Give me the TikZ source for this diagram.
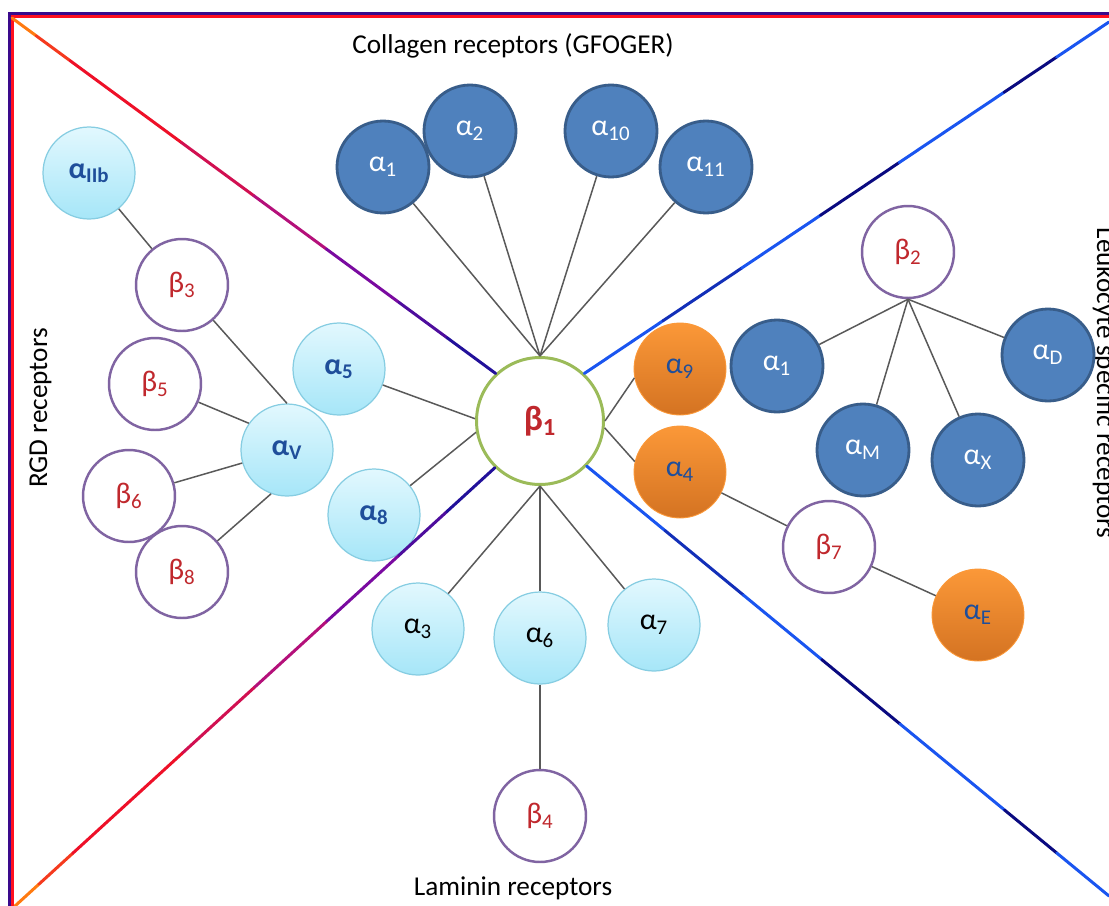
\documentclass[tikz,border=0pt]{standalone}
\usepackage{fontspec}
\setmainfont{Carlito}
\usetikzlibrary{calc}

\definecolor{colfill}{HTML}{4F81BD}
\definecolor{coldraw}{HTML}{385D8A}
\definecolor{cyantop}{HTML}{E2F8FE}
\definecolor{cyanbot}{HTML}{A6E6F8}
\definecolor{cyandraw}{HTML}{86CDE2}
\definecolor{orgtop}{HTML}{FB9838}
\definecolor{orgbot}{HTML}{D47322}
\definecolor{betadraw}{HTML}{8064A2}
\definecolor{betatext}{HTML}{C0282D}
\definecolor{bonedraw}{HTML}{9BBB59}
\definecolor{alblue}{HTML}{1F4E9A}
\definecolor{linkgray}{HTML}{595959}
\definecolor{dgorange}{HTML}{FF7A10}
\definecolor{dgred}{HTML}{EE1028}
\definecolor{dgmag}{HTML}{B4107A}
\definecolor{dgpurp}{HTML}{7A0AA0}
\definecolor{dgnavy}{HTML}{22109A}
\definecolor{dgblue}{HTML}{1A55F0}
\definecolor{dgdark}{HTML}{0A0A80}
\definecolor{frpurp}{HTML}{3A0A8C}
\definecolor{frred}{HTML}{FF1020}

\newcommand{\al}[1]{α\textsubscript{#1}}
\newcommand{\bt}[1]{β\textsubscript{#1}}

\begin{document}
\begin{tikzpicture}[x=0.02cm,y=-0.02cm,
  every node/.style={font=\fontsize{17}{17}\selectfont},
  rec/.style={circle,inner sep=0pt,minimum size=1.84cm},
  coll/.style={rec,fill=colfill,draw=coldraw,line width=1.6pt,text=white},
  cyan/.style={rec,top color=cyantop,bottom color=cyanbot,draw=cyandraw,line width=0.7pt},
  rgd/.style={cyan,text=alblue,font=\fontsize{17}{17}\selectfont\bfseries},
  org/.style={rec,top color=orgtop,bottom color=orgbot,draw=orgtop,line width=0.5pt,text=alblue},
  beta/.style={rec,fill=white,draw=betadraw,line width=1.4pt,text=betatext},
  group/.style={font=\fontsize{15.5}{15.5}\selectfont,anchor=base},
  link/.style={draw=linkgray,line width=0.85pt},
  diag/.style={line width=1.7pt,line cap=round}]
\useasboundingbox (0,0) rectangle (1109,906);
\clip (0,0) rectangle (1109,906);
\fill[white] (0,0) rectangle (1109,906);
\draw[frpurp,line width=1.8pt] (9.5,906) -- (9.5,14) -- (1109,14);
\draw[frred,line width=1.6pt] (12.3,906) -- (12.3,16.8) -- (1109,16.8);

\coordinate (tl) at (12,18);
\coordinate (bl) at (15,906);
\coordinate (tr) at (1109,22);
\coordinate (br) at (1109,896);

\node[group] (collagen) at (513,53) {Collagen receptors (GFOGER)};
\node[group] (laminin) at (513,895) {Laminin receptors};
\node[group,rotate=90] (rgdlab) at (47,408) {RGD receptors};
\node[group,rotate=-90] (leulab) at (1097,383) {Leukocyte specific receptors};

\node[rec,fill=white,draw=bonedraw,line width=1.7pt,minimum size=2.54cm,text=betatext,
  font=\fontsize{20}{20}\selectfont\bfseries] (b1) at (540,421) {\bt{1}};

\node[coll] (a1) at (383,167) {\al{1}};
\node[coll] (a2) at (470,131) {\al{2}};
\node[coll] (a10) at (611,131) {\al{10}};
\node[coll] (a11) at (706,167) {\al{11}};

\node[rgd] (a2b) at (89,173) {\al{IIb}};
\node[beta] (b3) at (182,285) {\bt{3}};
\node[beta] (b5) at (155,384) {\bt{5}};
\node[rgd] (av) at (287,450) {\al{V}};
\node[beta] (b6) at (129,496) {\bt{6}};
\node[beta] (b8) at (182,572) {\bt{8}};
\node[rgd] (a5) at (339,369) {\al{5}};
\node[rgd] (a8) at (374,515) {\al{8}};

\node[cyan] (a3) at (418,629) {\al{3}};
\node[cyan] (a6) at (540,638) {\al{6}};
\node[cyan] (a7) at (654,625) {\al{7}};
\node[beta] (b4) at (540,816) {\bt{4}};

\node[org] (a9) at (680,369) {\al{9}};
\node[org] (a4) at (680,472) {\al{4}};
\node[beta] (b7) at (829,547) {\bt{7}};
\node[org] (ae) at (978,615) {\al{E}};

\node[beta] (b2) at (908,252) {\bt{2}};
\node[coll] (al) at (777,366) {\al{1}};
\node[coll] (am) at (863,450) {\al{M}};
\node[coll] (ax) at (978,460) {\al{X}};
\node[coll] (ad) at (1048,355) {\al{D}};

\foreach \n in {a1,a2,a10,a11} \draw[link] (\n) -- (b1.north);
\foreach \n in {a3,a6,a7} \draw[link] (b1.south) -- (\n);
\foreach \n in {al,am,ax,ad} \draw[link] (b2.south) -- (\n);
\draw[link] (a5) -- (b1.178);
\draw[link] (a8) -- (b1.190);
\draw[link] (b1.east) -- (a9.191);
\draw[link] (b1.354) -- (a4.167);
\draw[link] (a4) -- (b7);
\draw[link] (b7) -- (ae);
\draw[link] (a6) -- (b4);
\draw[link] (a2b) -- (b3);
\draw[link] (b3) -- (av.north);
\draw[link] (b5) -- (av.145);
\draw[link] (b6) -- (av);
\draw[link] (b8) -- (av.250);

\foreach \s/\e/\c in {0/.05/dgorange,.05/.12/dgorange!40!dgred,.12/.35/dgred,.35/.5/dgred!50!dgmag,
  .5/.65/dgmag,.65/.8/dgpurp,.8/.9/dgpurp!50!dgnavy,.9/1/dgnavy} {
  \draw[diag,\c] ($(tl)!\s!(b1.133)$) -- ($(tl)!\e!(b1.133)$);
  \draw[diag,\c] ($(bl)!\s!(b1.226)$) -- ($(bl)!\e!(b1.226)$);
}
\foreach \s/\e/\c in {0/.15/dgblue,.15/.3/dgdark!50!dgblue,.3/.45/dgblue,.45/.6/dgdark,
  .6/.8/dgblue,.8/.9/dgdark,.9/1/dgblue} {
  \draw[diag,\c] ($(b1.47)!\s!(tr)$) -- ($(b1.47)!\e!(tr)$);
  \draw[diag,\c] ($(b1.316)!\s!(br)$) -- ($(b1.316)!\e!(br)$);
}
\end{tikzpicture}
\end{document}
